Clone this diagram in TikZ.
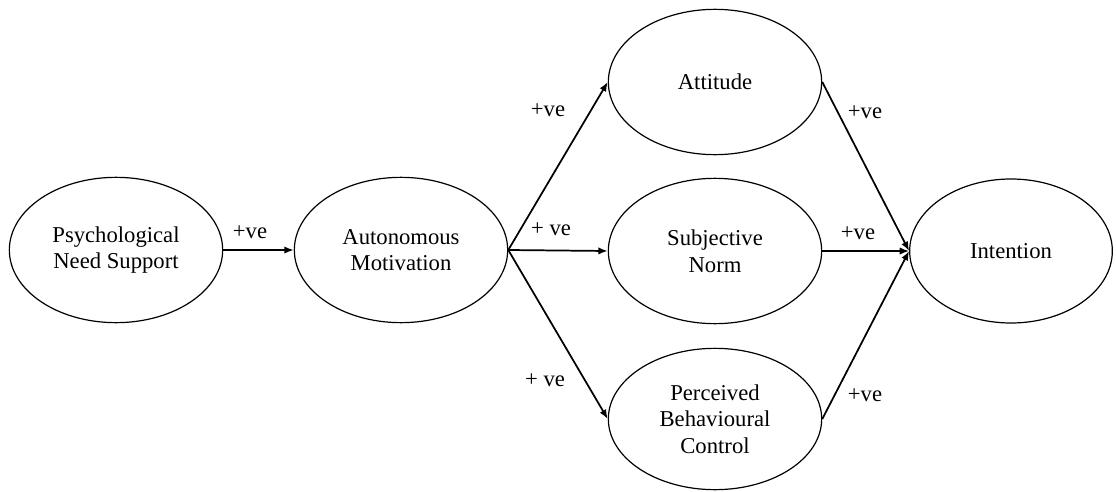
\documentclass[tikz,border=0pt]{standalone}
\usepackage{fontspec}
\setmainfont{Liberation Serif}
\usetikzlibrary{shapes.geometric,arrows.meta}

\tikzset{
  construct/.style={draw, ellipse, line width=0.9pt, minimum width=160pt, minimum height=109pt,
    inner sep=0pt, align=center, font=\fontsize{17}{20}\selectfont},
  link/.style={line width=1.3pt, -{Latex[length=7pt,width=5.5pt]}},
  sign/.style={inner sep=0.75pt, font=\fontsize{17}{20}\selectfont}
}

\begin{document}
\begin{tikzpicture}[x=0.75pt,y=0.75pt,yscale=-1,xscale=1]
        \useasboundingbox (0,0) rectangle (1116,492);

        %Shape: Ellipse
        \node [construct] (psych) at (116,250) {Psychological\\Need Support};
        %Shape: Ellipse
        \node [construct] (auto) at (401,250) {Autonomous\\Motivation};
        %Shape: Ellipse
        \node [construct] (att) at (715,82) {Attitude};
        %Shape: Ellipse
        \node [construct] (norm) at (715,251) {Subjective\\Norm};
        %Shape: Ellipse
        \node [construct, minimum height=106pt] (pbc) at (715,419) {Perceived\\Behavioural\\Control};
        %Shape: Ellipse
        \node [construct, minimum width=152pt, minimum height=108pt] (intent) at (1011,251) {Intention};

        %Straight Lines
        \draw [link] (psych) -- (auto);
        %Straight Lines
        \draw [link] (auto.east) -- (att.west);
        %Straight Lines
        \draw [link] (auto.east) -- (norm.west);
        %Straight Lines
        \draw [link] (auto.east) -- (pbc.west);
        %Straight Lines
        \draw [link] (att.east) -- (intent.west);
        %Straight Lines
        \draw [link] (norm.east) -- (intent.west);
        %Straight Lines
        \draw [link] (pbc.east) -- (intent.west);

        % Text Node
        \node [sign] (s1) at (250,232) {+ve};
        % Text Node
        \node [sign] (s2) at (548,110) {+ve};
        % Text Node
        \node [sign] (s3) at (551,229) {+ ve};
        % Text Node
        \node [sign] (s4) at (545,380) {+ ve};
        % Text Node
        \node [sign] (s5) at (865,112) {+ve};
        % Text Node
        \node [sign] (s6) at (858,233) {+ve};
        % Text Node
        \node [sign] (s7) at (865,395) {+ve};

\end{tikzpicture}
\end{document}
